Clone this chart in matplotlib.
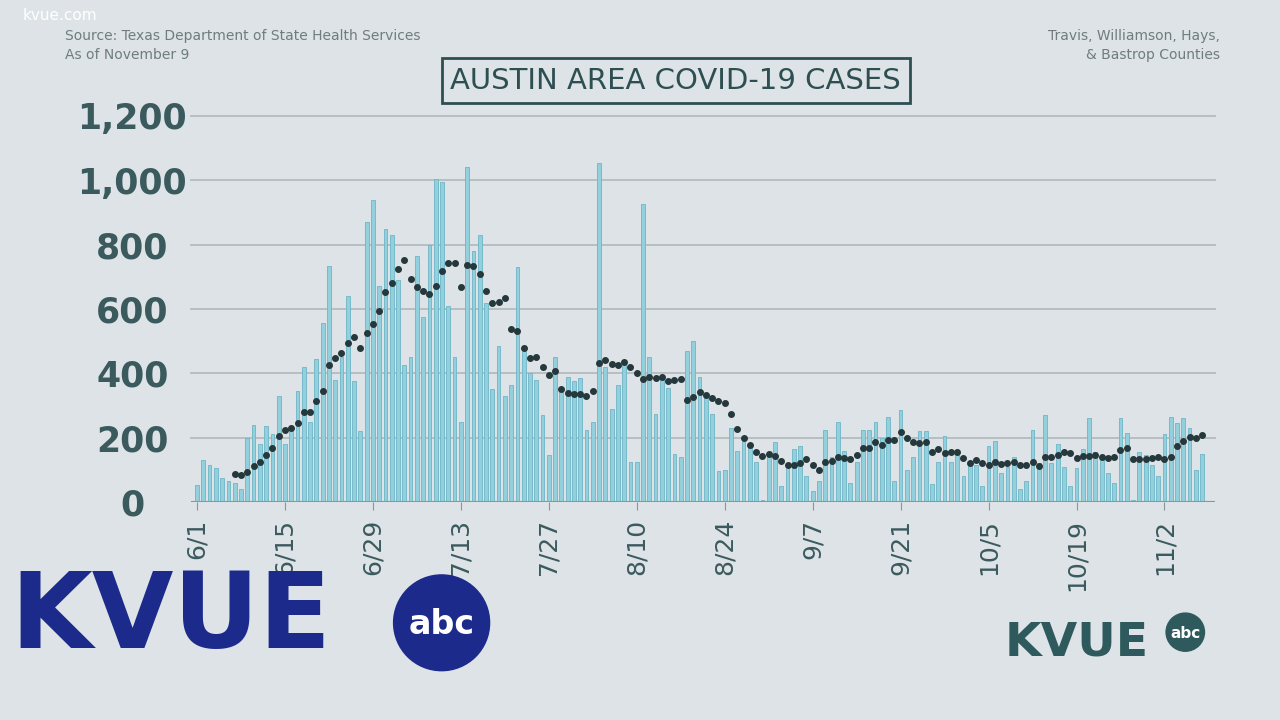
import matplotlib
matplotlib.use("Agg")
import matplotlib.pyplot as plt
from matplotlib.patches import Ellipse
import pandas as pd
import numpy as np

start_date = "2020-06-01"
cases = [52,130,115,105,75,65,60,40,200,240,180,235,210,330,180,230,345,420,250,445,
         555,735,380,450,640,375,220,870,940,670,850,830,690,425,450,765,575,800,1005,995,
         610,450,250,1040,780,830,620,350,485,330,365,730,470,400,380,270,145,450,345,390,
         375,385,225,250,1055,420,290,365,435,125,125,925,450,275,385,355,150,140,470,500,
         390,330,275,95,100,230,160,200,180,125,5,150,185,50,120,165,175,80,35,65,
         225,140,250,160,60,125,225,225,250,200,265,65,285,100,140,220,220,55,125,205,
         125,145,80,120,115,50,175,190,90,110,140,40,65,225,120,270,120,180,110,50,
         105,165,260,155,140,90,60,260,215,5,155,145,115,80,210,265,245,260,230,100,150]
tick_labels = ["6/1","6/15","6/29","7/13","7/27","8/10","8/24","9/7","9/21","10/5","10/19","11/2"]
yticks = [0,200,400,600,800,1000,1200]

s = pd.Series(cases)
avg = s.rolling(7).mean()

bg = "#dde3e6"
fig = plt.figure(figsize=(12.8,7.2), dpi=100, facecolor=bg)
ax = fig.add_axes([0.149, 0.3028, 0.80, 0.5362], facecolor=bg)
x = np.arange(len(cases))
ax.bar(x, cases, width=0.6, color="#93d0dd", edgecolor="#6fb6c7", linewidth=0.6, zorder=2)
ax.plot(x, avg, linestyle="none", marker="o", markersize=4, color="#25383c", zorder=3)
ax.set_xlim(-1, 162)
ax.set_ylim(0, 1200)
for v in yticks[1:]:
    ax.axhline(v, color="#b5bcbf", linewidth=1.3, zorder=1, clip_on=False)
ax.axhline(0, color="#8c9598", linewidth=1.5, zorder=4)
for sp in ax.spines.values():
    sp.set_visible(False)
ax.set_yticks(yticks)
ax.set_yticklabels([f"{v:,}" for v in yticks], fontsize=25, color="#3b5a5e", fontweight="semibold")
ax.tick_params(axis="y", length=0, pad=42)
for lab in ax.get_yticklabels():
    lab.set_horizontalalignment("center")
ax.set_xticks(np.arange(0, 14*len(tick_labels), 14))
ax.set_xticklabels(tick_labels, rotation=90, fontsize=18, color="#3b5a5e")
ax.tick_params(axis="x", length=6, color="#8c9598", pad=6)

fig.text(0.528, 0.888, "AUSTIN AREA COVID-19 CASES", ha="center", va="center", fontsize=21,
         color="#2e4f52", bbox=dict(boxstyle="square,pad=0.3", fc=bg, ec="#2e4f52", lw=2))
fig.text(0.051, 0.945, "Source: Texas Department of State Health Services", fontsize=10, color="#6f7c80")
fig.text(0.051, 0.918, "As of November 9", fontsize=10, color="#6f7c80")
fig.text(0.953, 0.945, "Travis, Williamson, Hays,", fontsize=10, color="#6f7c80", ha="right")
fig.text(0.953, 0.918, "& Bastrop Counties", fontsize=10, color="#6f7c80", ha="right")
fig.text(0.018, 0.972, "kvue.com", fontsize=11, color="white")

fig.text(0.008, 0.1, "KVUE", fontsize=76, fontweight="bold", color="#1c2a8c")
fig.add_artist(Ellipse((0.345, 0.135), 0.075, 0.133, transform=fig.transFigure, color="#1c2a8c"))
fig.text(0.345, 0.132, "abc", fontsize=24, fontweight="bold", color="white", ha="center", va="center")

fig.text(0.785, 0.09, "KVUE", fontsize=34, fontweight="bold", color="#2e5a5e")
fig.add_artist(Ellipse((0.926, 0.122), 0.03, 0.053, transform=fig.transFigure, color="#2e5a5e"))
fig.text(0.926, 0.12, "abc", fontsize=11, fontweight="bold", color="white", ha="center", va="center")

fig.savefig("out.png", dpi=100, facecolor=bg)
